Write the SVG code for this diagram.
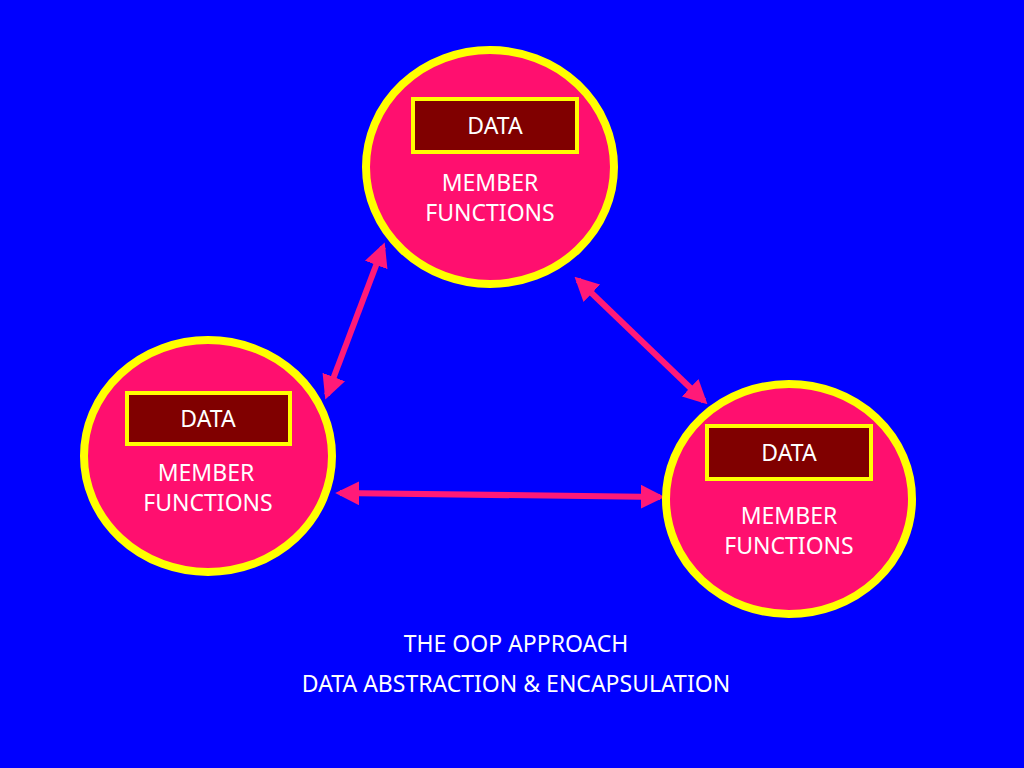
<svg xmlns="http://www.w3.org/2000/svg" width="1024" height="768" viewBox="0 0 1024 768">
<style>
.c{fill:#ff0f6f;stroke:#ffff00;stroke-width:8}
.d{fill:#800000;stroke:#ffff00;stroke-width:4}
.t{font-family:"Noto Sans","Open Sans",sans-serif;font-size:23px;fill:#fff;text-anchor:middle}
.a{stroke:#ff1a78;stroke-width:6;fill:none;marker-start:url(#m);marker-end:url(#m)}
</style>
<defs><marker id="m" viewBox="0 0 10 10" refX="8" refY="5" markerWidth="4" markerHeight="4" orient="auto-start-reverse"><path d="M0,0L10,5L0,10z" fill="#ff1a78"/></marker></defs>
<rect width="1024" height="768" fill="#0000ff"/>
<g id="connectors">
<line class="a" x1="383" y1="247" x2="327" y2="395"/>
<line class="a" x1="578" y1="280" x2="704" y2="401"/>
<line class="a" x1="340" y1="493" x2="660" y2="497"/>
</g>
<g id="top"><ellipse class="c" cx="490" cy="167" rx="124" ry="117"/><rect class="d" x="413" y="99" width="164" height="53"/><text class="t" x="495" y="134">DATA</text><text class="t" x="490" y="191">MEMBER</text><text class="t" x="490" y="221">FUNCTIONS</text></g>
<g id="left"><ellipse class="c" cx="208" cy="456" rx="124" ry="116"/><rect class="d" x="127" y="393" width="163" height="51"/><text class="t" x="208" y="427">DATA</text><text class="t" x="206" y="481">MEMBER</text><text class="t" x="208" y="511">FUNCTIONS</text></g>
<g id="right"><ellipse class="c" cx="789" cy="499" rx="123" ry="115"/><rect class="d" x="707" y="426" width="164" height="53"/><text class="t" x="789" y="461">DATA</text><text class="t" x="789" y="524">MEMBER</text><text class="t" x="789" y="554">FUNCTIONS</text></g>
<text class="t" x="516" y="652">THE OOP APPROACH</text>
<text class="t" x="516" y="692">DATA ABSTRACTION &amp; ENCAPSULATION</text>
</svg>
